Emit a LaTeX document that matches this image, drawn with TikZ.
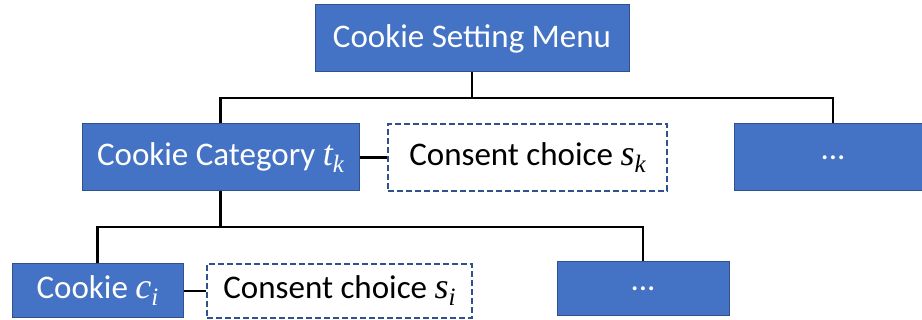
\documentclass[tikz,border=0pt]{standalone}
\usepackage{fontspec}
\setmainfont{Carlito}
\newfontfamily\mathletters{Liberation Serif Italic}
\newcommand{\mvar}[2]{{\mathletters\fontsize{36}{36}\selectfont #1\raisebox{-7pt}{\fontsize{25}{25}\selectfont #2}}}
\definecolor{boxblue}{HTML}{4472C4}
\definecolor{boxedge}{HTML}{2F528F}
\begin{document}
\begin{tikzpicture}[x=1pt,y=-1pt,
  bluebox/.style={draw=boxedge,line width=1pt,fill=boxblue,text=white,inner sep=0pt,
    font=\fontsize{33}{38}\selectfont},
  choicebox/.style={draw=boxedge,line width=1.8pt,dash pattern=on 6pt off 3pt,fill=white,text=black,inner sep=0pt,
    font=\fontsize{33}{38}\selectfont},
  conn/.style={line width=2.2pt,black}]
\useasboundingbox (0,0) rectangle (922,320);
\begin{scope}
\clip (0,0) rectangle (922,320);
\node[bluebox,minimum width=314pt,minimum height=67pt] (top) at (472,38.5) {Cookie Setting Menu};
\node[bluebox,minimum width=277pt,minimum height=67pt] (cat) at (220.5,157.5) {Cookie Category \mvar{t}{k}};
\node[choicebox,minimum width=279pt,minimum height=67pt] (sk) at (527.5,157.5) {Consent choice \mvar{s}{k}};
\node[bluebox,minimum width=198pt,minimum height=67pt] (dots1) at (833,157.5) {...};
\node[bluebox,minimum width=171pt,minimum height=54pt] (cookie) at (97.5,291) {Cookie \mvar{c}{i}};
\node[choicebox,minimum width=265pt,minimum height=54pt] (si) at (339.5,291) {Consent choice \mvar{s}{i}};
\node[bluebox,minimum width=172pt,minimum height=54pt] (dots2) at (643,289) {...};
\end{scope}
\coordinate (j1) at (472,98);
\coordinate (j2) at (220.5,227);
\draw[conn] (top.south) -- (j1);
\draw[conn] (cat.north) |- (j1) -| (dots1.north);
\draw[conn] (cat.east) -- (sk.west);
\draw[conn] (cat.south) -- (j2);
\draw[conn] (cookie.north) |- (j2) -| (dots2.north);
\draw[conn] (cookie.east) -- (si.west);
\end{tikzpicture}
\end{document}
